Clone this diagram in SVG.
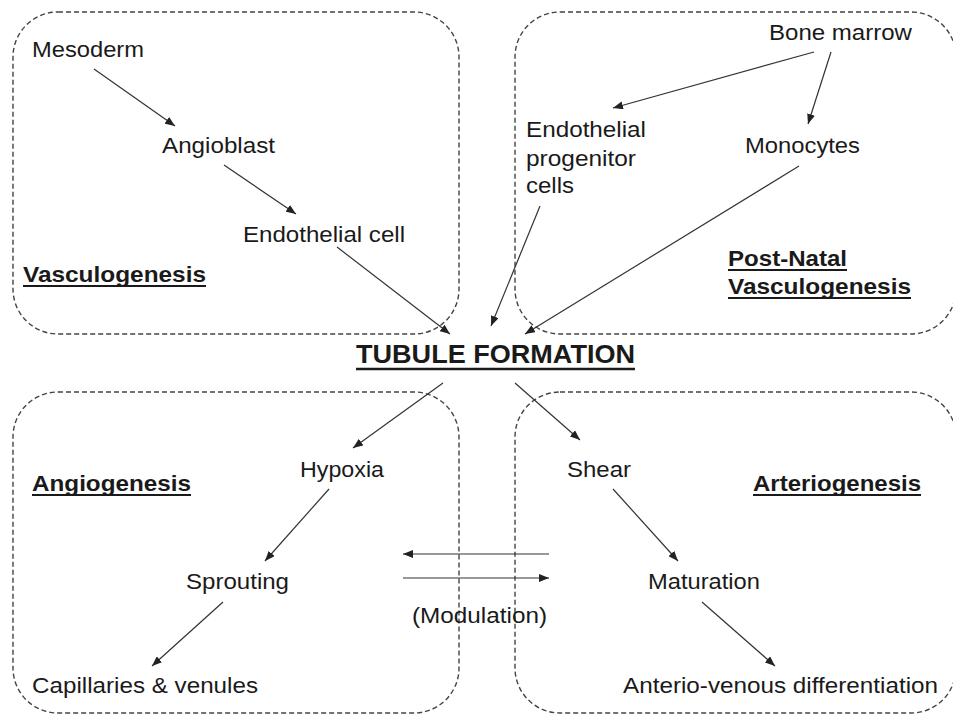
<svg xmlns="http://www.w3.org/2000/svg" width="953" height="715" viewBox="0 0 953 715">
<defs>
<marker id="ah" markerWidth="10" markerHeight="8" refX="10" refY="4" orient="auto" markerUnits="userSpaceOnUse">
<path d="M0,0 L10,4 L0,8 Z" fill="#222"/>
</marker>
<style>
.box{fill:none;stroke:#444;stroke-width:1.4;stroke-dasharray:5,3}
.t{font-family:"Liberation Sans",Arial,sans-serif;font-size:22px;fill:#1a1a1a}
.b{font-weight:bold}
.ul{stroke:#1a1a1a;stroke-width:1.8}
.c{stroke:#333;stroke-width:1.2;fill:none;marker-end:url(#ah)}
</style>
</defs>
<rect width="953" height="715" fill="#fff"/>
<g id="regions">
<rect id="box-vasculogenesis" class="box" x="13" y="12" width="446" height="322" rx="45" ry="45"/>
<rect id="box-postnatal" class="box" x="515" y="12" width="441" height="322" rx="45" ry="45"/>
<rect id="box-angiogenesis" class="box" x="13" y="392" width="446" height="321" rx="45" ry="45"/>
<rect id="box-arteriogenesis" class="box" x="515" y="392" width="441" height="321" rx="45" ry="45"/>
</g>
<g id="connectors">
<line class="c" x1="94" y1="69" x2="175" y2="126"/>
<line class="c" x1="224" y1="165" x2="296" y2="214"/>
<line class="c" x1="337" y1="247" x2="450" y2="334"/>
<line class="c" x1="540" y1="206" x2="491" y2="326"/>
<line class="c" x1="799" y1="166" x2="525" y2="334"/>
<line class="c" x1="814" y1="52" x2="613" y2="108"/>
<line class="c" x1="831" y1="52" x2="808" y2="124"/>
<line class="c" x1="443" y1="383" x2="353" y2="448"/>
<line class="c" x1="515" y1="383" x2="580" y2="440"/>
<line class="c" x1="329" y1="489" x2="265" y2="561"/>
<line class="c" x1="223" y1="602" x2="152" y2="666"/>
<line class="c" x1="613" y1="489" x2="678" y2="561"/>
<line class="c" x1="702" y1="602" x2="775" y2="666"/>
<line class="c" x1="549" y1="554" x2="403" y2="554"/>
<line class="c" x1="403" y1="578" x2="549" y2="578"/>
</g>
<g id="n-mesoderm"><text class="t" x="32" y="57" textLength="112" lengthAdjust="spacingAndGlyphs">Mesoderm</text></g>
<g id="n-angioblast"><text class="t" x="162" y="153" textLength="113" lengthAdjust="spacingAndGlyphs">Angioblast</text></g>
<g id="n-endothelial-cell"><text class="t" x="243" y="242" textLength="162" lengthAdjust="spacingAndGlyphs">Endothelial cell</text></g>
<g id="l-vasculogenesis"><text class="t b" x="23" y="282" textLength="183" lengthAdjust="spacingAndGlyphs">Vasculogenesis</text><line class="ul" x1="23" y1="286" x2="206" y2="286"/></g>
<g id="n-bone-marrow"><text class="t" x="769" y="40" textLength="143" lengthAdjust="spacingAndGlyphs">Bone marrow</text></g>
<g id="n-epc">
<text class="t" x="526" y="137" textLength="120" lengthAdjust="spacingAndGlyphs">Endothelial</text>
<text class="t" x="526" y="166" textLength="110" lengthAdjust="spacingAndGlyphs">progenitor</text>
<text class="t" x="526" y="193" textLength="48" lengthAdjust="spacingAndGlyphs">cells</text>
</g>
<g id="n-monocytes"><text class="t" x="745" y="153" textLength="115" lengthAdjust="spacingAndGlyphs">Monocytes</text></g>
<g id="l-postnatal">
<text class="t b" x="728" y="266" textLength="119" lengthAdjust="spacingAndGlyphs">Post-Natal</text><line class="ul" x1="728" y1="270" x2="847" y2="270"/>
<text class="t b" x="728" y="294" textLength="183" lengthAdjust="spacingAndGlyphs">Vasculogenesis</text><line class="ul" x1="728" y1="298" x2="911" y2="298"/>
</g>
<g id="n-tubule"><text class="t b" style="font-size:25px" x="356" y="363" textLength="279" lengthAdjust="spacingAndGlyphs">TUBULE FORMATION</text><line class="ul" style="stroke-width:2.4" x1="356" y1="369" x2="635" y2="369"/></g>
<g id="n-hypoxia"><text class="t" x="300" y="477" textLength="84" lengthAdjust="spacingAndGlyphs">Hypoxia</text></g>
<g id="l-angiogenesis"><text class="t b" x="32" y="491" textLength="159" lengthAdjust="spacingAndGlyphs">Angiogenesis</text><line class="ul" x1="32" y1="495" x2="191" y2="495"/></g>
<g id="n-sprouting"><text class="t" x="186" y="589" textLength="103" lengthAdjust="spacingAndGlyphs">Sprouting</text></g>
<g id="l-modulation"><text class="t" x="412" y="623" textLength="135" lengthAdjust="spacingAndGlyphs">(Modulation)</text></g>
<g id="n-capillaries"><text class="t" x="32" y="693" textLength="226" lengthAdjust="spacingAndGlyphs">Capillaries &amp; venules</text></g>
<g id="n-shear"><text class="t" x="567" y="477" textLength="64" lengthAdjust="spacingAndGlyphs">Shear</text></g>
<g id="l-arteriogenesis"><text class="t b" x="753" y="491" textLength="168" lengthAdjust="spacingAndGlyphs">Arteriogenesis</text><line class="ul" x1="753" y1="495" x2="921" y2="495"/></g>
<g id="n-maturation"><text class="t" x="648" y="589" textLength="112" lengthAdjust="spacingAndGlyphs">Maturation</text></g>
<g id="n-av-diff"><text class="t" x="623" y="693" textLength="315" lengthAdjust="spacingAndGlyphs">Anterio-venous differentiation</text></g>
</svg>
